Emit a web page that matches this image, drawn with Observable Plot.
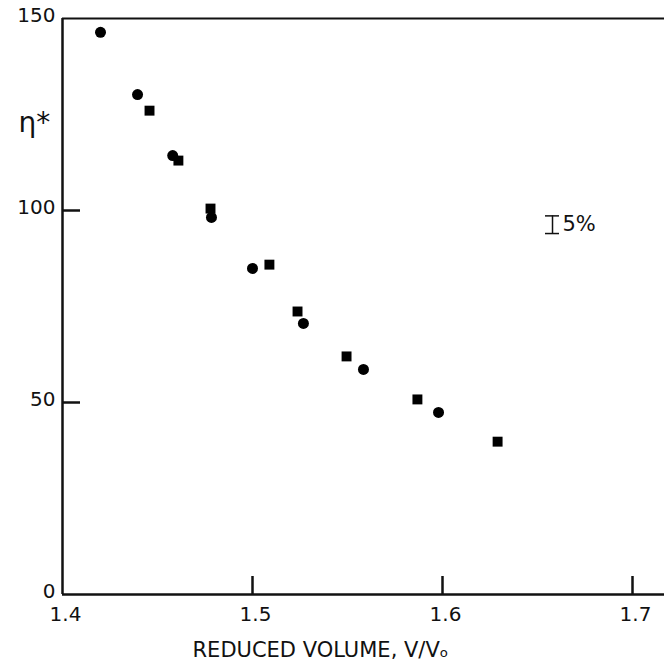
<!DOCTYPE html>
<html>
<head>
<meta charset="utf-8">
<script src="https://cdn.jsdelivr.net/npm/d3@7"></script>
<script src="https://cdn.jsdelivr.net/npm/@observablehq/plot@0.6"></script>
<style>
  html, body { margin: 0; padding: 0; background: #fff; }
  svg { display: block; }
</style>
</head>
<body>
<div id="chart"></div>
<script>
// Data: reduced volume vs η*
const circleV   = [1.420, 1.4395, 1.458, 1.4784, 1.500, 1.5268, 1.5584, 1.5979];
const circleEta = [146.4, 130.2, 114.3, 98.2, 84.9, 70.6, 58.6, 47.4];
const squareV   = [1.4458, 1.461, 1.4779, 1.5089, 1.5237, 1.5495, 1.5868, 1.629];
const squareEta = [126.0, 113.0, 100.5, 85.9, 73.7, 62.0, 50.8, 39.8];

const xTickLabels = [1.4, 1.5, 1.6, 1.7];
const xInnerTicks = [1.5, 1.6, 1.7];
const yTickLabels = [0, 50, 100, 150];
const yInnerTicks = [50, 100];

// 5% error-bar annotation
const errX = 1.6579, errLow = 94.0, errHigh = 98.6;
const errLabel = "5%";

const circles = circleV.map((v, i) => ({v, eta: circleEta[i]}));
const squares = squareV.map((v, i) => ({v, eta: squareEta[i]}));

const font = "'DejaVu Sans', 'Liberation Sans', sans-serif";

const chart = Plot.plot({
  width: 664,
  height: 668,
  marginLeft: 62,
  marginRight: 0,
  marginTop: 18,
  marginBottom: 74,
  style: {fontFamily: font, fontSize: "20px", color: "#111", background: "#fff"},
  x: {domain: [1.4, 1.4 + 602 / 1900]},
  y: {domain: [0, 150]},
  marks: [
    // frame: left, bottom, top
    Plot.ruleX([1.4], {stroke: "#111", strokeWidth: 2.5}),
    Plot.ruleY([0], {stroke: "#111", strokeWidth: 2.5}),
    Plot.ruleY([150], {stroke: "#111", strokeWidth: 2}),
    // inward ticks
    Plot.ruleX(xInnerTicks, {x: d => d, y1: 0, y2: 0, insetTop: -18, stroke: "#111", strokeWidth: 2.5}),
    Plot.ruleY(yInnerTicks, {y: d => d, x1: 1.4, x2: 1.4, insetRight: -18, stroke: "#111", strokeWidth: 2.5}),
    // tick labels
    Plot.axisX({ticks: xTickLabels, tickSize: 0, tickPadding: 12, tickFormat: d3.format(".1f"),
      label: null, fontSize: 20, fill: "#111", dx: 3}),
    Plot.axisY({ticks: yTickLabels, tickSize: 0, tickPadding: 7, label: null, fontSize: 20, fill: "#111", dy: -3}),
    // axis title
    Plot.text(["REDUCED VOLUME, V/Vₒ"], {frameAnchor: "bottom", dx: -43, dy: 62, text: d => d,
      fontSize: 21, fill: "#111", textAnchor: "middle", letterSpacing: "1px"}),
    Plot.text(["η*"], {frameAnchor: "top-left", dx: -44, dy: 94, text: d => d,
      fontSize: 28, fill: "#111", textAnchor: "start"}),
    // data
    Plot.dot(circles, {x: "v", y: "eta", r: 5.5, symbol: "circle", fill: "#000", stroke: "none"}),
    Plot.dot(squares, {x: "v", y: "eta", r: 5.6, symbol: "square", fill: "#000", stroke: "none"}),
    // error bar annotation
    Plot.ruleX([errX], {x: d => d, y1: errLow, y2: errHigh, stroke: "#111", strokeWidth: 1.5}),
    Plot.ruleY([errLow, errHigh], {y: d => d, x1: errX, x2: errX, insetLeft: -7, insetRight: -7, stroke: "#111", strokeWidth: 1.5}),
    Plot.text([errLabel], {x: errX, y: (errLow + errHigh) / 2, dx: 10, text: d => d, textAnchor: "start",
      fontSize: 21, fill: "#111"})
  ]
});

document.getElementById("chart").appendChild(chart);
</script>
</body>
</html>
